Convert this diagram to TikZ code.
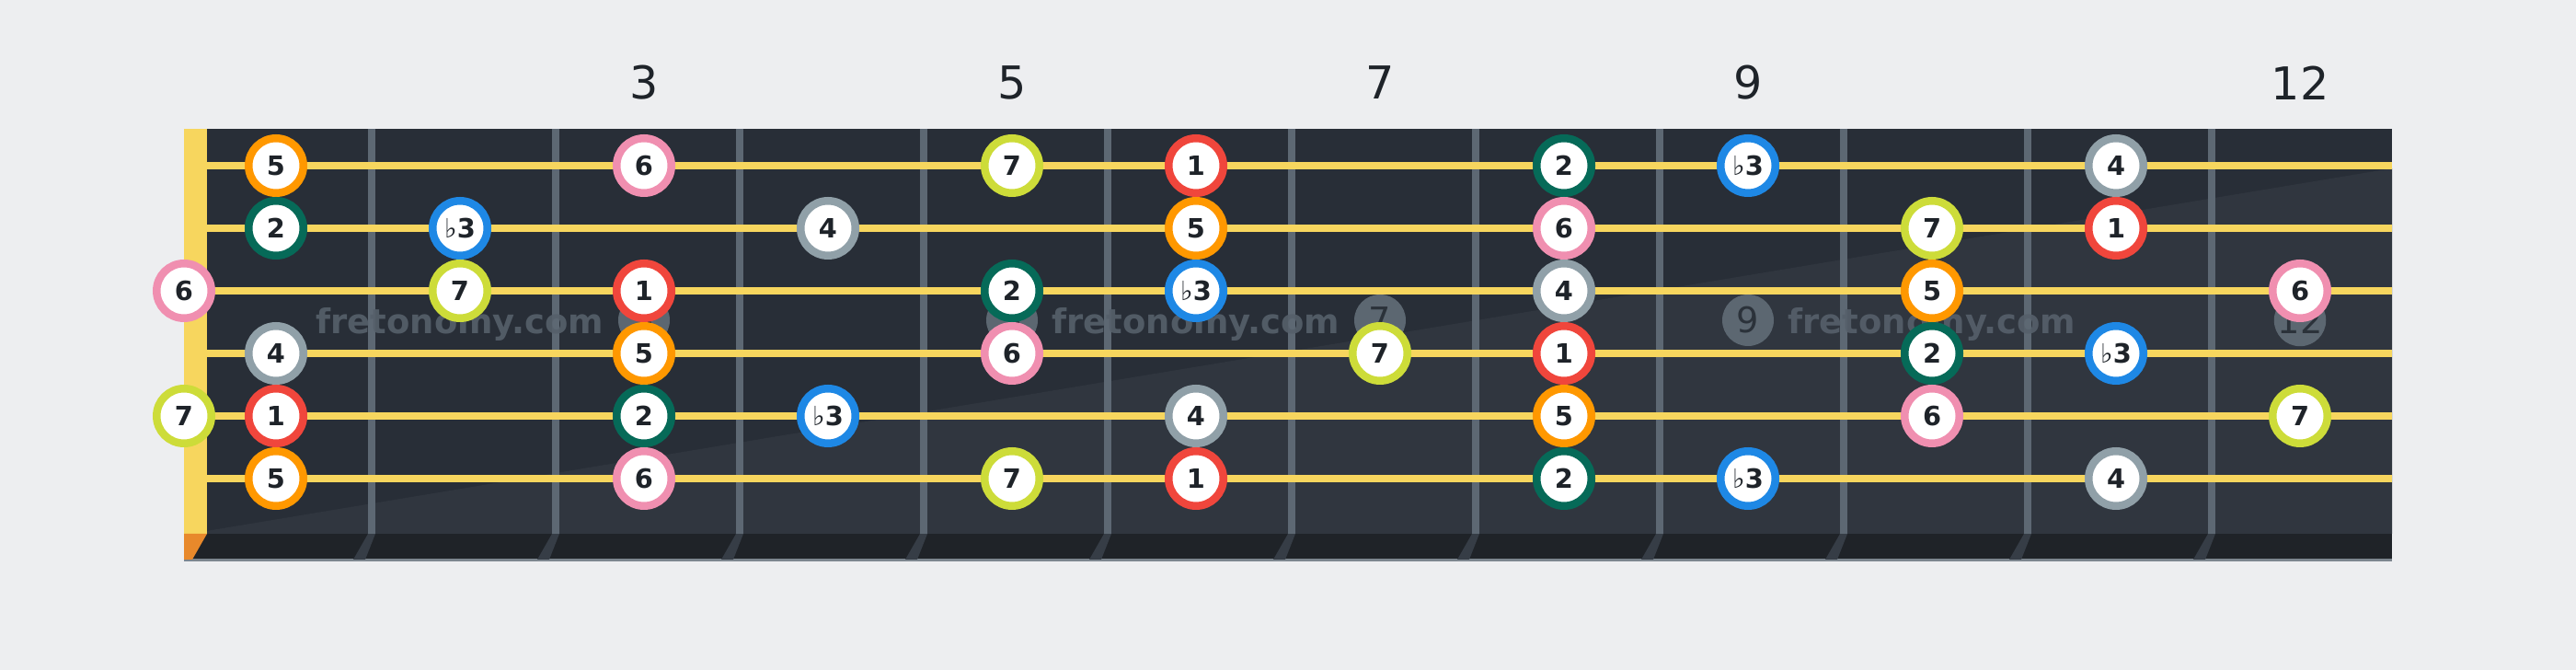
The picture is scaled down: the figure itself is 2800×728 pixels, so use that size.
\documentclass[tikz,border=0pt]{standalone}
\usepackage{fontspec}
\newfontfamily\djv{DejaVu Sans}
\definecolor{bgc}{HTML}{EDEEF0}
\definecolor{boardA}{HTML}{282E37}
\definecolor{boardB}{HTML}{30363F}
\definecolor{stripc}{HTML}{1F2328}
\definecolor{slantc}{HTML}{363D46}
\definecolor{fretc}{HTML}{5D6873}
\definecolor{strc}{HTML}{F7D65E}
\definecolor{nutbot}{HTML}{E8892B}
\definecolor{txtc}{HTML}{1E2329}
\definecolor{markc}{HTML}{5C6771}
\definecolor{marktxt}{HTML}{2B323A}
\definecolor{wmc}{HTML}{56606B}
\definecolor{cOne}{HTML}{F0463C}
\definecolor{cTwo}{HTML}{066A58}
\definecolor{cThree}{HTML}{1E88E5}
\definecolor{cFour}{HTML}{90A0A8}
\definecolor{cFive}{HTML}{FF9800}
\definecolor{cSix}{HTML}{F08FB0}
\definecolor{cSeven}{HTML}{CDDC39}
\newcommand\fl{{\mdseries\char"266D}}
\begin{document}
\begin{tikzpicture}[x=0.1mm,y=-0.1mm,
  note/.style={circle,fill=white,line width=0.85mm,minimum size=5.95mm,inner sep=0pt,
    font=\djv\bfseries\fontsize{8.2pt}{8.2pt}\selectfont,text=txtc},
  marker/.style={circle,fill=markc,minimum size=5.6mm,inner sep=0pt,
    font=\djv\fontsize{10.9pt}{10.9pt}\selectfont,text=marktxt},
  fretnum/.style={font=\djv\fontsize{14pt}{14pt}\selectfont,text=txtc},
  wmark/.style={font=\djv\bfseries\fontsize{10.5pt}{10.5pt}\selectfont,text=wmc,opacity=0.9,anchor=base}]
\useasboundingbox (0,0) rectangle (2800,728);
\fill[bgc] (0,0) rectangle (2800,728);
% board
\fill[boardA] (200,140) rectangle (2600,580);
\fill[boardB] (200,581) -- (2600,183) -- (2600,580) -- (200,580) -- cycle;
\fill[stripc] (200,580) rectangle (2600,608);
\fill[fretc!80!white] (200,607) rectangle (2600,610);
\foreach \n in {1,...,11}{
  \pgfmathsetmacro\xo{400+200*(\n-1)}
  \fill[slantc] (\xo,580) -- (\xo+8,580) -- (\xo-3,608) -- (\xo-16,608) -- cycle;
  \fill[fretc] (\xo,140) rectangle (\xo+8,580);
}
\fill[strc] (200,140) rectangle (225,580);
\fill[nutbot] (200,580) -- (225,580) -- (209,608) -- (200,608) -- cycle;
% strings
\foreach \s in {1,...,6}{
  \pgfmathsetmacro\yy{112+68*\s}
  \fill[strc] (225,\yy-4) rectangle (2600,\yy+4);
}
% fret numbers
\foreach \f in {3,5,7,9,12}{
  \node[fretnum] (fn\f) at ({100+200*\f},90) {\f};
}
% inlay markers
\foreach \f in {3,5,7,9,12}{
  \node[marker] (m\f) at ({100+200*\f},348) {\f};
}
% watermark
\node[wmark] (wm1) at (500,363) {fretonomy.com};
\node[wmark] (wm2) at (1300,363) {fretonomy.com};
\node[wmark] (wm3) at (2100,363) {fretonomy.com};
% notes: string, fret, colour, label
\newcommand\nt[4]{\node[note,draw=#3] (s#1f#2) at ({#2==0 ? 200 : 100+200*#2},{112+68*#1}) {#4};}
% string 1
\nt{1}{1}{cFive}{5}\nt{1}{3}{cSix}{6}\nt{1}{5}{cSeven}{7}\nt{1}{6}{cOne}{1}
\nt{1}{8}{cTwo}{2}\nt{1}{9}{cThree}{\fl3}\nt{1}{11}{cFour}{4}
% string 2
\nt{2}{1}{cTwo}{2}\nt{2}{2}{cThree}{\fl3}\nt{2}{4}{cFour}{4}\nt{2}{6}{cFive}{5}
\nt{2}{8}{cSix}{6}\nt{2}{10}{cSeven}{7}\nt{2}{11}{cOne}{1}
% string 3
\nt{3}{0}{cSix}{6}\nt{3}{2}{cSeven}{7}\nt{3}{3}{cOne}{1}\nt{3}{5}{cTwo}{2}
\nt{3}{6}{cThree}{\fl3}\nt{3}{8}{cFour}{4}\nt{3}{10}{cFive}{5}\nt{3}{12}{cSix}{6}
% string 4
\nt{4}{1}{cFour}{4}\nt{4}{3}{cFive}{5}\nt{4}{5}{cSix}{6}\nt{4}{7}{cSeven}{7}
\nt{4}{8}{cOne}{1}\nt{4}{10}{cTwo}{2}\nt{4}{11}{cThree}{\fl3}
% string 5
\nt{5}{0}{cSeven}{7}\nt{5}{1}{cOne}{1}\nt{5}{3}{cTwo}{2}\nt{5}{4}{cThree}{\fl3}
\nt{5}{6}{cFour}{4}\nt{5}{8}{cFive}{5}\nt{5}{10}{cSix}{6}\nt{5}{12}{cSeven}{7}
% string 6
\nt{6}{1}{cFive}{5}\nt{6}{3}{cSix}{6}\nt{6}{5}{cSeven}{7}\nt{6}{6}{cOne}{1}
\nt{6}{8}{cTwo}{2}\nt{6}{9}{cThree}{\fl3}\nt{6}{11}{cFour}{4}
\end{tikzpicture}
\end{document}
